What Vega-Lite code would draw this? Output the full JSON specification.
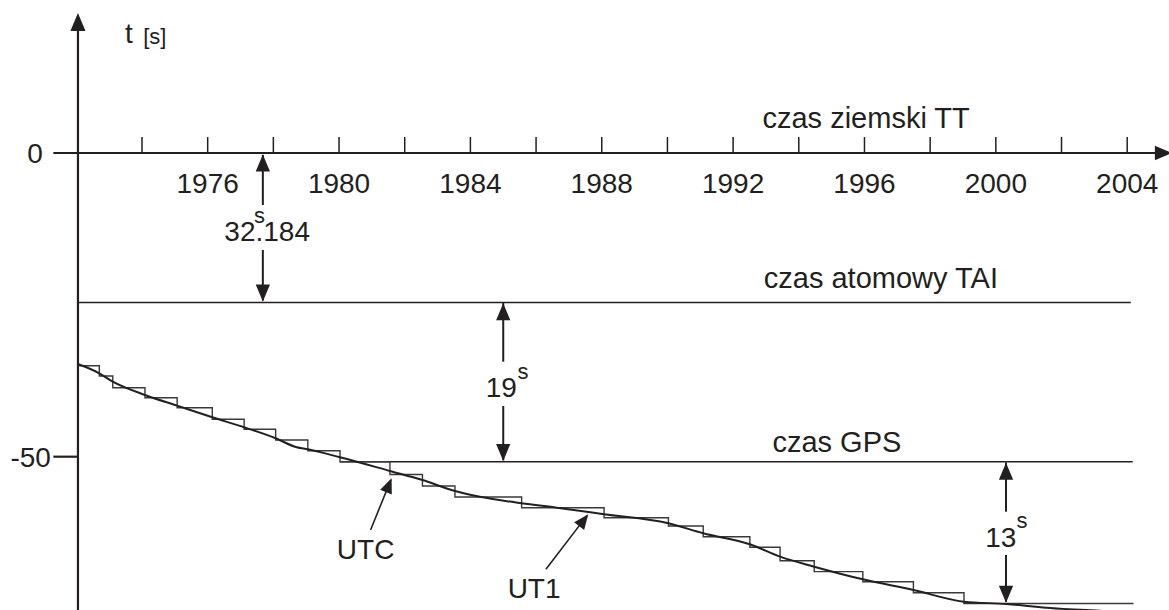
{
  "$schema": "https://vega.github.io/schema/vega-lite/v6.json",
  "width": 1169,
  "height": 610,
  "padding": 0,
  "autosize": "none",
  "background": "white",
  "config": {"view": {"stroke": null}, "text": {"font": "Liberation Sans", "color": "#231f20"}},
  "datasets": {
    "axisLines": [
      {"year": 1971.30, "year2": 2004.95, "t": 0, "t2": 0},
      {"year": 1972.05, "year2": 1972.05, "t": -80, "t2": 21},
      {"year": 1971.30, "year2": 1972.05, "t": -50, "t2": -50}
    ],
    "ticks": [
      {"year": 1974, "t": 0}, {"year": 1976, "t": 0}, {"year": 1978, "t": 0}, {"year": 1980, "t": 0},
      {"year": 1982, "t": 0}, {"year": 1984, "t": 0}, {"year": 1986, "t": 0}, {"year": 1988, "t": 0},
      {"year": 1990, "t": 0}, {"year": 1992, "t": 0}, {"year": 1994, "t": 0}, {"year": 1996, "t": 0},
      {"year": 1998, "t": 0}, {"year": 2000, "t": 0}, {"year": 2002, "t": 0}, {"year": 2004, "t": 0}
    ],
    "levels": [
      {"name": "TAI", "year": 1972.05, "year2": 2004.11, "t": -24.61},
      {"name": "GPS", "year": 1980.03, "year2": 2004.17, "t": -50.82}
    ],
    "utc": [
      {"year": 1972.05, "t": -35.02}, {"year": 1972.70, "t": -36.71}, {"year": 1973.11, "t": -38.64},
      {"year": 1974.09, "t": -40.29}, {"year": 1975.07, "t": -41.93}, {"year": 1976.14, "t": -43.84},
      {"year": 1977.11, "t": -45.49}, {"year": 1978.07, "t": -47.25}, {"year": 1979.05, "t": -49.01},
      {"year": 1980.03, "t": -50.82}, {"year": 1981.55, "t": -52.93}, {"year": 1982.54, "t": -54.82},
      {"year": 1983.53, "t": -56.63}, {"year": 1985.56, "t": -58.40}, {"year": 1988.07, "t": -60.04},
      {"year": 1990.03, "t": -61.41}, {"year": 1991.09, "t": -63.17}, {"year": 1992.51, "t": -64.92},
      {"year": 1993.43, "t": -67.12}, {"year": 1994.47, "t": -68.93}, {"year": 1995.95, "t": -70.58},
      {"year": 1997.49, "t": -72.39}, {"year": 1999.03, "t": -74.17}, {"year": 2004.19, "t": -74.17}
    ],
    "ut1": [
      {"year": 1972.05, "t": -34.74}, {"year": 1972.70, "t": -36.27}, {"year": 1973.11, "t": -37.65},
      {"year": 1974.09, "t": -39.84}, {"year": 1975.07, "t": -41.60}, {"year": 1976.14, "t": -43.51},
      {"year": 1977.11, "t": -45.16}, {"year": 1978.07, "t": -46.97}, {"year": 1978.71, "t": -48.45},
      {"year": 1979.05, "t": -48.78}, {"year": 1980.03, "t": -50.10}, {"year": 1981.55, "t": -52.35},
      {"year": 1982.54, "t": -53.84}, {"year": 1983.53, "t": -55.65}, {"year": 1984.29, "t": -56.59},
      {"year": 1985.56, "t": -57.67}, {"year": 1986.63, "t": -58.40}, {"year": 1988.07, "t": -59.48},
      {"year": 1990.03, "t": -60.97}, {"year": 1991.09, "t": -62.61}, {"year": 1992.51, "t": -64.42},
      {"year": 1993.43, "t": -66.46}, {"year": 1994.47, "t": -68.11}, {"year": 1995.95, "t": -70.19},
      {"year": 1997.49, "t": -71.95}, {"year": 1999.03, "t": -73.87}, {"year": 2000.33, "t": -74.25},
      {"year": 2001.54, "t": -74.86}, {"year": 2003.26, "t": -75.40}, {"year": 2004.99, "t": -75.90}
    ],
    "shafts": [
      {"year": 1977.68, "t": -0.3, "t2": -8.56},
      {"year": 1977.68, "t": -15.97, "t2": -24.3},
      {"year": 1985.00, "t": -24.7, "t2": -34.36},
      {"year": 1985.00, "t": -41.65, "t2": -50.6},
      {"year": 2000.31, "t": -50.95, "t2": -59.06},
      {"year": 2000.31, "t": -66.18, "t2": -73.9}
    ],
    "upHeads": [
      {"year": 1977.68, "t": -0.25}, {"year": 1985.00, "t": -24.75}, {"year": 2000.31, "t": -51.0}
    ],
    "downHeads": [
      {"year": 1977.68, "t": -24.45}, {"year": 1985.00, "t": -50.7}, {"year": 2000.31, "t": -74.05}
    ],
    "yHead": [{"year": 1972.05, "t": 23.05}],
    "xHead": [{"year": 2005.36, "t": 0}],
    "pointers": [
      {"name": "UTC", "year": 1980.96, "t": -62.07, "year2": 1981.58, "t2": -53.8},
      {"name": "UT1", "year": 1986.30, "t": -68.54, "year2": 1987.55, "t2": -59.7}
    ],
    "utcHead": [{"year": 1981.60, "t": -53.56}],
    "ut1Head": [{"year": 1987.59, "t": -59.48}],
    "lineLabels": [
      {"label": "czas ziemski TT", "year": 1996.05, "t": 4.07},
      {"label": "czas atomowy TAI", "year": 1996.50, "t": -22.28},
      {"label": "czas GPS", "year": 1995.16, "t": -49.18}
    ],
    "labels": [
      {"label": "t", "year": 1973.60, "t": 18.06},
      {"label": "32.184", "year": 1977.81, "t": -14.44},
      {"label": "19", "year": 1984.94, "t": -40.12},
      {"label": "13", "year": 2000.15, "t": -64.82},
      {"label": "UTC", "year": 1980.81, "t": -66.84},
      {"label": "UT1", "year": 1985.94, "t": -73.31},
      {"label": "0", "year": 1970.74, "t": -1.70},
      {"label": "-50", "year": 1970.61, "t": -51.65},
      {"label": "1976", "year": 1976, "t": -6.54},
      {"label": "1980", "year": 1980, "t": -6.54},
      {"label": "1984", "year": 1984, "t": -6.54},
      {"label": "1988", "year": 1988, "t": -6.54},
      {"label": "1992", "year": 1992, "t": -6.54},
      {"label": "1996", "year": 1996, "t": -6.54},
      {"label": "2000", "year": 2000, "t": -6.54},
      {"label": "2004", "year": 2004, "t": -6.54}
    ],
    "smallLabels": [
      {"label": "[s]", "year": 1974.39, "t": 18.0},
      {"label": "s", "year": 1977.58, "t": -11.5},
      {"label": "s", "year": 1985.60, "t": -37.26},
      {"label": "s", "year": 2000.80, "t": -61.79}
    ]
  },
  "encoding": {
    "x": {"field": "year", "type": "quantitative", "scale": {"domain": [1969.676, 2005.273], "nice": false, "zero": false}, "axis": null},
    "y": {"field": "t", "type": "quantitative", "scale": {"domain": [-75.24, 25.19], "nice": false, "zero": false}, "axis": null}
  },
  "layer": [
    {
      "data": {"name": "axisLines"},
      "mark": {"type": "rule", "color": "#231f20", "strokeWidth": 2.2},
      "encoding": {"x2": {"field": "year2"}, "y2": {"field": "t2"}}
    },
    {
      "data": {"name": "ticks"},
      "mark": {"type": "rule", "color": "#231f20", "strokeWidth": 1.5},
      "encoding": {"y2": {"datum": 2.63}}
    },
    {
      "data": {"name": "levels"},
      "mark": {"type": "rule", "color": "#231f20", "strokeWidth": 1.6},
      "encoding": {"x2": {"field": "year2"}}
    },
    {
      "data": {"name": "utc"},
      "mark": {"type": "line", "interpolate": "step-after", "color": "#3a3839", "strokeWidth": 1.4},
      "encoding": {}
    },
    {
      "data": {"name": "ut1"},
      "mark": {"type": "line", "interpolate": "monotone", "color": "#231f20", "strokeWidth": 2},
      "encoding": {}
    },
    {
      "data": {"name": "shafts"},
      "mark": {"type": "rule", "color": "#231f20", "strokeWidth": 2},
      "encoding": {"y2": {"field": "t2"}}
    },
    {
      "data": {"name": "upHeads"},
      "mark": {"type": "point", "shape": "M0,0L-0.42,1L0.42,1Z", "size": 1156, "filled": true, "opacity": 1, "color": "#231f20", "angle": 0}
    },
    {
      "data": {"name": "downHeads"},
      "mark": {"type": "point", "shape": "M0,0L-0.42,1L0.42,1Z", "size": 1156, "filled": true, "opacity": 1, "color": "#231f20", "angle": 180}
    },
    {
      "data": {"name": "yHead"},
      "mark": {"type": "point", "shape": "M0,0L-0.42,1L0.42,1Z", "size": 1296, "filled": true, "opacity": 1, "color": "#231f20", "angle": 0}
    },
    {
      "data": {"name": "xHead"},
      "mark": {"type": "point", "shape": "M0,0L-0.42,1L0.42,1Z", "size": 1156, "filled": true, "opacity": 1, "color": "#231f20", "angle": 90}
    },
    {
      "data": {"name": "pointers"},
      "mark": {"type": "rule", "color": "#231f20", "strokeWidth": 1.6},
      "encoding": {"x2": {"field": "year2"}, "y2": {"field": "t2"}}
    },
    {
      "data": {"name": "utcHead"},
      "mark": {"type": "point", "shape": "M0,0L-0.42,1L0.42,1Z", "size": 900, "filled": true, "opacity": 1, "color": "#231f20", "angle": 22}
    },
    {
      "data": {"name": "ut1Head"},
      "mark": {"type": "point", "shape": "M0,0L-0.42,1L0.42,1Z", "size": 900, "filled": true, "opacity": 1, "color": "#231f20", "angle": 37.6}
    },
    {
      "data": {"name": "lineLabels"},
      "mark": {"type": "text", "fontSize": 29, "align": "center", "baseline": "alphabetic", "color": "#231f20"},
      "encoding": {"text": {"field": "label"}}
    },
    {
      "data": {"name": "labels"},
      "mark": {"type": "text", "fontSize": 28, "align": "center", "baseline": "alphabetic", "color": "#231f20"},
      "encoding": {"text": {"field": "label"}}
    },
    {
      "data": {"name": "smallLabels"},
      "mark": {"type": "text", "fontSize": 22, "align": "center", "baseline": "alphabetic", "color": "#231f20"},
      "encoding": {"text": {"field": "label"}}
    }
  ]
}
